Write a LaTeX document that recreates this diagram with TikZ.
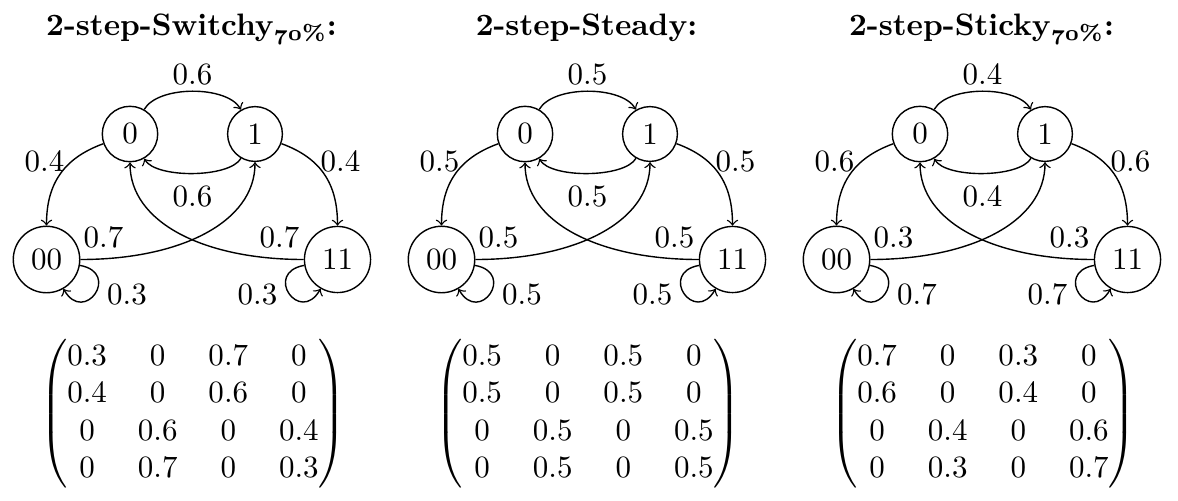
\documentclass[tikz,border=0pt]{standalone}
\usepackage{amsmath}
\tikzset{
  st/.style={draw,circle,line width=0.45pt},
  lbl/.style={inner sep=0pt},
  tr/.style={->,line width=0.45pt},
}
\newcommand\pct{$_{\text{\bfseries{\usefont{OML}{cmm}{b}{it}70}\%}}$}
% #1 shift, #2 title, #3 a (0<->1), #4 c (to 00/11), #5 d (00->1), #6 e (loops), #7 prefix
\newcommand\mypanel[7]{%
\begin{scope}[shift={(#1,0)}]
  \node[anchor=base] (#7t) at (-1,-35) {#2};
  \node[st] (#7n0) at (-62.5,-134) {0};
  \node[st] (#7n1) at (62.5,-134) {1};
  \node[st] (#7n00) at (-146,-259.5) {00};
  \node[st] (#7n11) at (145,-259.5) {11};
  \draw[tr] (#7n0.60) .. controls +(60:28) and +(120:28) .. (#7n1.120);
  \draw[tr] (#7n1.240) .. controls +(240:23) and +(300:23) .. (#7n0.300);
  \draw[tr] (#7n0.200) .. controls +(200:42) and +(90:42) .. (#7n00.90);
  \draw[tr] (#7n1.-20) .. controls +(-20:42) and +(90:42) .. (#7n11.90);
  \draw[tr] (#7n00.east) .. controls +(0:100) and +(-90:60) .. (#7n1.south);
  \draw[tr] (#7n11.west) .. controls +(180:100) and +(-90:60) .. (#7n0.south);
  \draw[tr] (#7n00.-10) .. controls +(-10:42) and +(-60:42) .. (#7n00.-60);
  \draw[tr] (#7n11.190) .. controls +(190:42) and +(240:42) .. (#7n11.240);
  \node[lbl] (#7la) at (0,-75) {$#3$};
  \node[lbl] (#7lb) at (0,-197) {$#3$};
  \node[lbl] (#7lc) at (-148,-162) {$#4$};
  \node[lbl] (#7ld) at (148,-162) {$#4$};
  \node[lbl] (#7le) at (-89,-238) {$#5$};
  \node[lbl] (#7lf) at (87,-238) {$#5$};
  \node[lbl] (#7lg) at (-65.5,-294) {$#6$};
  \node[lbl] (#7lh) at (65,-294) {$#6$};
  \node (#7m) at (0.5,-414) {$\begin{pmatrix}
    #6 & 0 & #5 & 0\\
    #4 & 0 & #3 & 0\\
    0 & #3 & 0 & #4\\
    0 & #5 & 0 & #6
  \end{pmatrix}$};
\end{scope}}
\begin{document}
\begin{tikzpicture}[x=0.3226pt,y=0.3226pt]
  \useasboundingbox (0,0) rectangle (1178,-500);
  \mypanel{192.5}{\textbf{2-step-Switchy}\pct\textbf{:}}{0.6}{0.4}{0.7}{0.3}{A}
  \mypanel{587.5}{\textbf{2-step-Steady:}}{0.5}{0.5}{0.5}{0.5}{B}
  \mypanel{982.5}{\textbf{2-step-Sticky}\pct\textbf{:}}{0.4}{0.6}{0.3}{0.7}{C}
\end{tikzpicture}
\end{document}
